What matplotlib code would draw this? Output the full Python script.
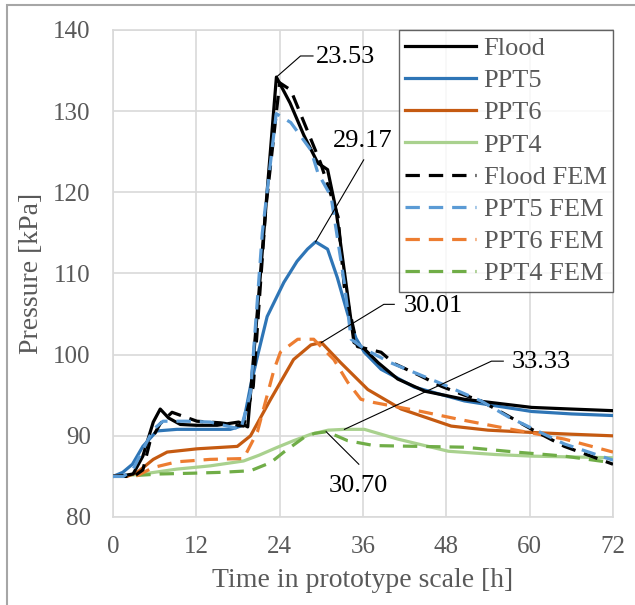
import matplotlib
matplotlib.use("Agg")
import matplotlib.pyplot as plt
from matplotlib.patches import Rectangle

plt.rcParams['font.family'] = ['Liberation Serif', 'DejaVu Serif']

# measured (solid) and FEM (dashed) pressure histories, time in h, pressure in kPa
flood_t = [0, 1.5, 2.9, 4.3, 5.8, 6.8, 8.0, 9.7, 12, 15, 18.1, 19.4, 21.0, 23.53, 25.5, 27.5, 29.5, 30.9, 32.1, 33.8, 34.7, 36.2, 38.2, 41, 44.9, 50.6, 60.3, 66, 72]
flood_p = [85, 85.1, 85.3, 87.5, 91.7, 93.3, 92.2, 91.4, 91.3, 91.3, 91.7, 91.1, 107.5, 134.2, 131.0, 127.0, 123.6, 122.8, 117.9, 107.2, 101.5, 100.7, 99.0, 97.0, 95.5, 94.5, 93.5, 93.3, 93.1]

flood_fem_t = [0, 3.0, 4.3, 5.3, 6.8, 8.5, 12.1, 15.5, 18.8, 20.2, 22.0, 24.0, 25.6, 27.8, 29.9, 32.4, 33.3, 35.2, 38.6, 40.5, 44, 47.3, 50, 53, 57, 60.3, 65, 72]
flood_fem_p = [85, 85.0, 85.8, 89.2, 91.5, 92.9, 91.8, 91.6, 91.2, 96.1, 118, 133.5, 132.6, 128.0, 123.6, 117.0, 108.4, 101.0, 100.3, 98.9, 97.5, 96.1, 95.2, 94.3, 92.4, 90.8, 88.7, 86.5]

ppt5_t = [0, 1.4, 2.8, 4.3, 6.3, 9.2, 12, 16.9, 18.4, 18.8, 19.8, 20.8, 22.2, 24.6, 26.5, 28.0, 29.17, 30.9, 32.3, 33.8, 35.0, 36.2, 38.6, 43.4, 50.6, 60.3, 66, 72]
ppt5_p = [85, 85.5, 86.5, 88.7, 90.6, 90.8, 90.8, 90.8, 91.2, 91.7, 96.1, 99.8, 104.7, 108.9, 111.5, 113.0, 113.9, 113.0, 109.5, 105.0, 102.0, 100.3, 98.2, 96.0, 94.3, 93.0, 92.7, 92.5]

ppt5_fem_t = [0, 1.5, 2.9, 5.8, 7.2, 10.7, 14, 18.4, 19.8, 21.5, 23.5, 25.6, 28.5, 29.5, 31.4, 33.3, 34.3, 36.2, 40, 46.8, 53, 57, 65, 72]
ppt5_fem_p = [85, 85.0, 85.9, 90.8, 91.8, 91.8, 91.7, 90.8, 95.3, 115, 129.7, 128.6, 125.2, 122.4, 119.5, 108.9, 101.9, 100.7, 99.0, 96.6, 94.3, 92.3, 89.0, 87.0]

ppt6_t = [0, 2.0, 3.5, 5.8, 7.8, 12.1, 17.9, 19.8, 22.7, 26, 28.5, 30.01, 32.8, 36.7, 41.5, 48.7, 54, 60.7, 66, 72]
ppt6_p = [85, 85.0, 85.5, 87.1, 88.0, 88.4, 88.7, 90.0, 94.5, 99.4, 101.2, 101.5, 99.0, 95.7, 93.3, 91.2, 90.7, 90.4, 90.2, 90.0]

ppt6_fem_t = [0, 3.5, 5.8, 9.2, 14, 18.8, 20.8, 23.2, 24.1, 26.6, 28.9, 31.8, 33.8, 35.7, 37.6, 44.4, 50, 55.5, 65, 72]
ppt6_fem_p = [85, 85.1, 86.1, 86.8, 87.1, 87.2, 90.5, 98.2, 100.3, 101.9, 101.9, 99.4, 96.6, 94.5, 94.1, 93.0, 92.0, 91.1, 89.6, 88.0]

ppt4_t = [0, 2.0, 4.3, 9.2, 14, 18.8, 21, 23.7, 26, 28.5, 31, 33.33, 36.2, 41, 48.3, 55, 60.3, 66, 72]
ppt4_p = [85, 85.1, 85.3, 85.9, 86.3, 86.9, 87.6, 88.6, 89.4, 90.2, 90.7, 90.8, 90.8, 89.6, 88.1, 87.7, 87.5, 87.4, 87.3]

ppt4_fem_t = [0, 3.0, 6.8, 11.6, 15.5, 19.8, 22.7, 24.6, 27.5, 29.0, 30.7, 32.2, 33.8, 37.6, 44, 50.6, 58, 65, 71.8]
ppt4_fem_p = [85, 85.1, 85.3, 85.4, 85.5, 85.7, 86.7, 88.0, 89.8, 90.3, 90.5, 90.0, 89.4, 88.8, 88.7, 88.6, 88.0, 87.5, 86.7]

x_ticks = [0, 12, 24, 36, 48, 60, 72]
y_ticks = [80, 90, 100, 110, 120, 130, 140]

# peak labels: text, peak (t, p), leader end (t, p), horizontal tail, text anchor (t, p)
notes = [
    ("23.53", (23.53, 134.2), (27.0, 136.8), 1.8, (29.2, 136.7), 'left'),
    ("29.17", (29.17, 113.9), (36.1, 124.0), 0.0, (36.0, 126.3), 'center'),
    ("30.01", (30.01, 101.5), (39.0, 106.2), 1.5, (41.8, 106.0), 'left'),
    ("33.33", (33.33, 90.8), (54.5, 99.2), 1.7, (57.4, 99.1), 'left'),
    ("30.70", (30.70, 90.5), (35.4, 86.5), 0.0, (35.3, 83.8), 'center'),
]

fig = plt.figure(figsize=(6.35, 6.05), dpi=100)
fig.patches.append(Rectangle((7 / 635, -0.01), 1.0, 1 - 5 / 605 + 0.01,
                             transform=fig.transFigure, fill=False,
                             edgecolor='#a6a6a6', linewidth=1.5))
ax = fig.add_axes([113 / 635, 1 - 517 / 605, 500 / 635, 487 / 605])

lw = 2.3
dash = (0, (4.5, 2.8))
ax.plot(flood_t, flood_p, color='black', lw=lw, label='Flood', zorder=5)
ax.plot(ppt5_t, ppt5_p, color='#2e75b6', lw=lw, label='PPT5', zorder=4)
ax.plot(ppt6_t, ppt6_p, color='#c55a11', lw=lw, label='PPT6', zorder=4)
ax.plot(ppt4_t, ppt4_p, color='#a9d18e', lw=lw, label='PPT4', zorder=3)
ax.plot(flood_fem_t, flood_fem_p, color='black', lw=lw, ls=dash, label='Flood FEM', zorder=5)
ax.plot(ppt5_fem_t, ppt5_fem_p, color='#5b9bd5', lw=lw, ls=dash, label='PPT5 FEM', zorder=6)
ax.plot(ppt6_fem_t, ppt6_fem_p, color='#ed7d31', lw=lw, ls=dash, label='PPT6 FEM', zorder=4)
ax.plot(ppt4_fem_t, ppt4_fem_p, color='#70ad47', lw=lw, ls=dash, label='PPT4 FEM', zorder=3)

for label, peak, elbow, tail, pos, ha in notes:
    xs = [peak[0], elbow[0]]
    ys = [peak[1], elbow[1]]
    if tail:
        xs.append(elbow[0] + tail)
        ys.append(elbow[1])
    ax.plot(xs, ys, color='black', lw=0.8, zorder=7)
    ax.text(pos[0], pos[1], label, fontsize=19, ha=ha, va='center', zorder=8)

ax.set_xlim(0, 72)
ax.set_ylim(80, 140)
ax.set_xticks(x_ticks)
ax.set_yticks(y_ticks)
ax.grid(True, color='#d9d9d9', lw=1.2)
ax.set_axisbelow(True)
for s in ax.spines.values():
    s.set_color('#d9d9d9')
    s.set_linewidth(1.2)
ax.tick_params(length=0, labelsize=18, labelcolor='#595959')
ax.tick_params(axis='y', pad=16)
ax.tick_params(axis='x', pad=14)
ax.set_xlabel('Time in prototype scale [h]', fontsize=20, color='#595959', labelpad=7)
ax.set_ylabel('Pressure [kPa]', fontsize=20, color='#595959', labelpad=7)

leg = ax.legend(loc='upper right', bbox_to_anchor=(1.0, 1.0), fontsize=19,
                frameon=True, fancybox=False, edgecolor='#404040',
                handlelength=2.7, handletextpad=0.27, labelspacing=0.33,
                borderpad=0.25, borderaxespad=0.0)
leg.get_frame().set_linewidth(1.0)
for t in leg.get_texts():
    t.set_color('#595959')

fig.savefig('out.png', dpi=100)
